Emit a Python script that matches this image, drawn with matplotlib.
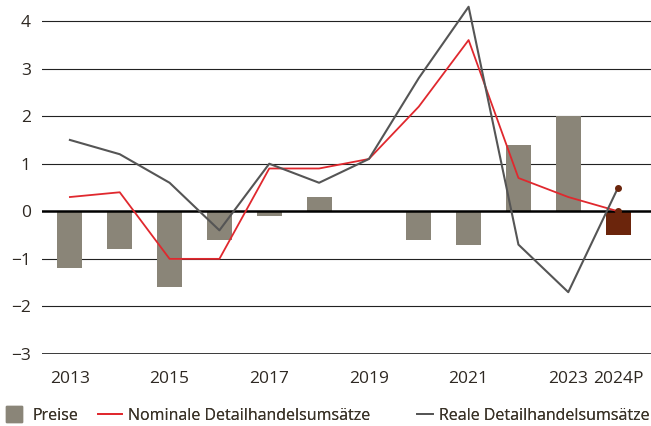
import numpy as np
import matplotlib.pyplot as plt
from matplotlib.lines import Line2D

plt.rcParams['font.family'] = ['Open Sans', 'DejaVu Sans']

# Data
years = ['2013', '2014', '2015', '2016', '2017', '2018', '2019', '2020', '2021', '2022', '2023', '2024P']
preise = [-1.2, -0.8, -1.6, -0.6, -0.1, 0.3, 0.0, -0.6, -0.7, 1.4, 2.0, -0.5]
nominal = [0.3, 0.4, -1.0, -1.0, 0.9, 0.9, 1.1, 2.2, 3.6, 0.7, 0.3, 0.0]
real = [1.5, 1.2, 0.6, -0.4, 1.0, 0.6, 1.1, 2.8, 4.3, -0.7, -1.7, 0.5]

bar_col = '#8a8578'
fc_col = '#6b250c'
red = '#e0282e'
grey = '#555555'
txt = '#2e2822'

W, H = 651, 426
fig = plt.figure(figsize=(W / 100, H / 100), dpi=100)
ax = fig.add_axes([42 / W, 72 / H, 609 / W, 352 / H])

x = np.arange(len(years))

# gridlines
for v in [4, 3, 2, 1, -1, -2]:
    ax.axhline(v, color='#222222', lw=0.8, zorder=1)
ax.axhline(0, color='black', lw=1.8, zorder=4)
ax.axhline(-3, color='black', lw=1.8, zorder=4)

colors = [bar_col] * (len(years) - 1) + [fc_col]
ax.bar(x, preise, width=0.5, color=colors, zorder=2)

ax.plot(x, nominal, color=red, lw=1.3, zorder=5)
ax.plot(x, real, color=grey, lw=1.5, zorder=5)
ax.plot(x[-1:], nominal[-1:], 'o', color=fc_col, ms=4, zorder=6)
ax.plot(x[-1:], real[-1:], 'o', color=fc_col, ms=4, zorder=6)

ax.set_xlim(-0.56, 11.66)
ax.set_ylim(-3, 4.4)
ax.set_yticks([-3, -2, -1, 0, 1, 2, 3, 4])
ax.set_yticklabels(['\u22123', '\u22122', '\u22121', '0', '1', '2', '3', '4'])
ax.set_xticks(x)
ax.set_xticklabels([y if (i % 2 == 0 or i == len(years) - 1) else '' for i, y in enumerate(years)])
ax.tick_params(axis='both', length=0, labelsize=12.5, colors=txt)
ax.tick_params(axis='y', pad=8)
ax.tick_params(axis='x', pad=12)
for s in ax.spines.values():
    s.set_visible(False)

# legend: three single-entry legends placed along the bottom
items = [
    (Line2D([], [], color=bar_col, marker='s', ms=11, lw=0), 'Preise', 2, 1.5),
    (Line2D([], [], color=red, lw=1.3), 'Nominale Detailhandelsumsätze', 98, 1.5),
    (Line2D([], [], color=grey, lw=1.3), 'Reale Detailhandelsumsätze', 417, 1.0),
]
for h, lab, px, hl in items:
    leg = fig.legend(handles=[h], labels=[lab], loc='center left',
                     bbox_to_anchor=(px / W, 10 / H), frameon=False, fontsize=11.5,
                     handlelength=hl, handletextpad=0.4, borderpad=0, borderaxespad=0,
                     labelcolor='#3a3328')
    fig.add_artist(leg)

fig.savefig('out.png', dpi=100)
